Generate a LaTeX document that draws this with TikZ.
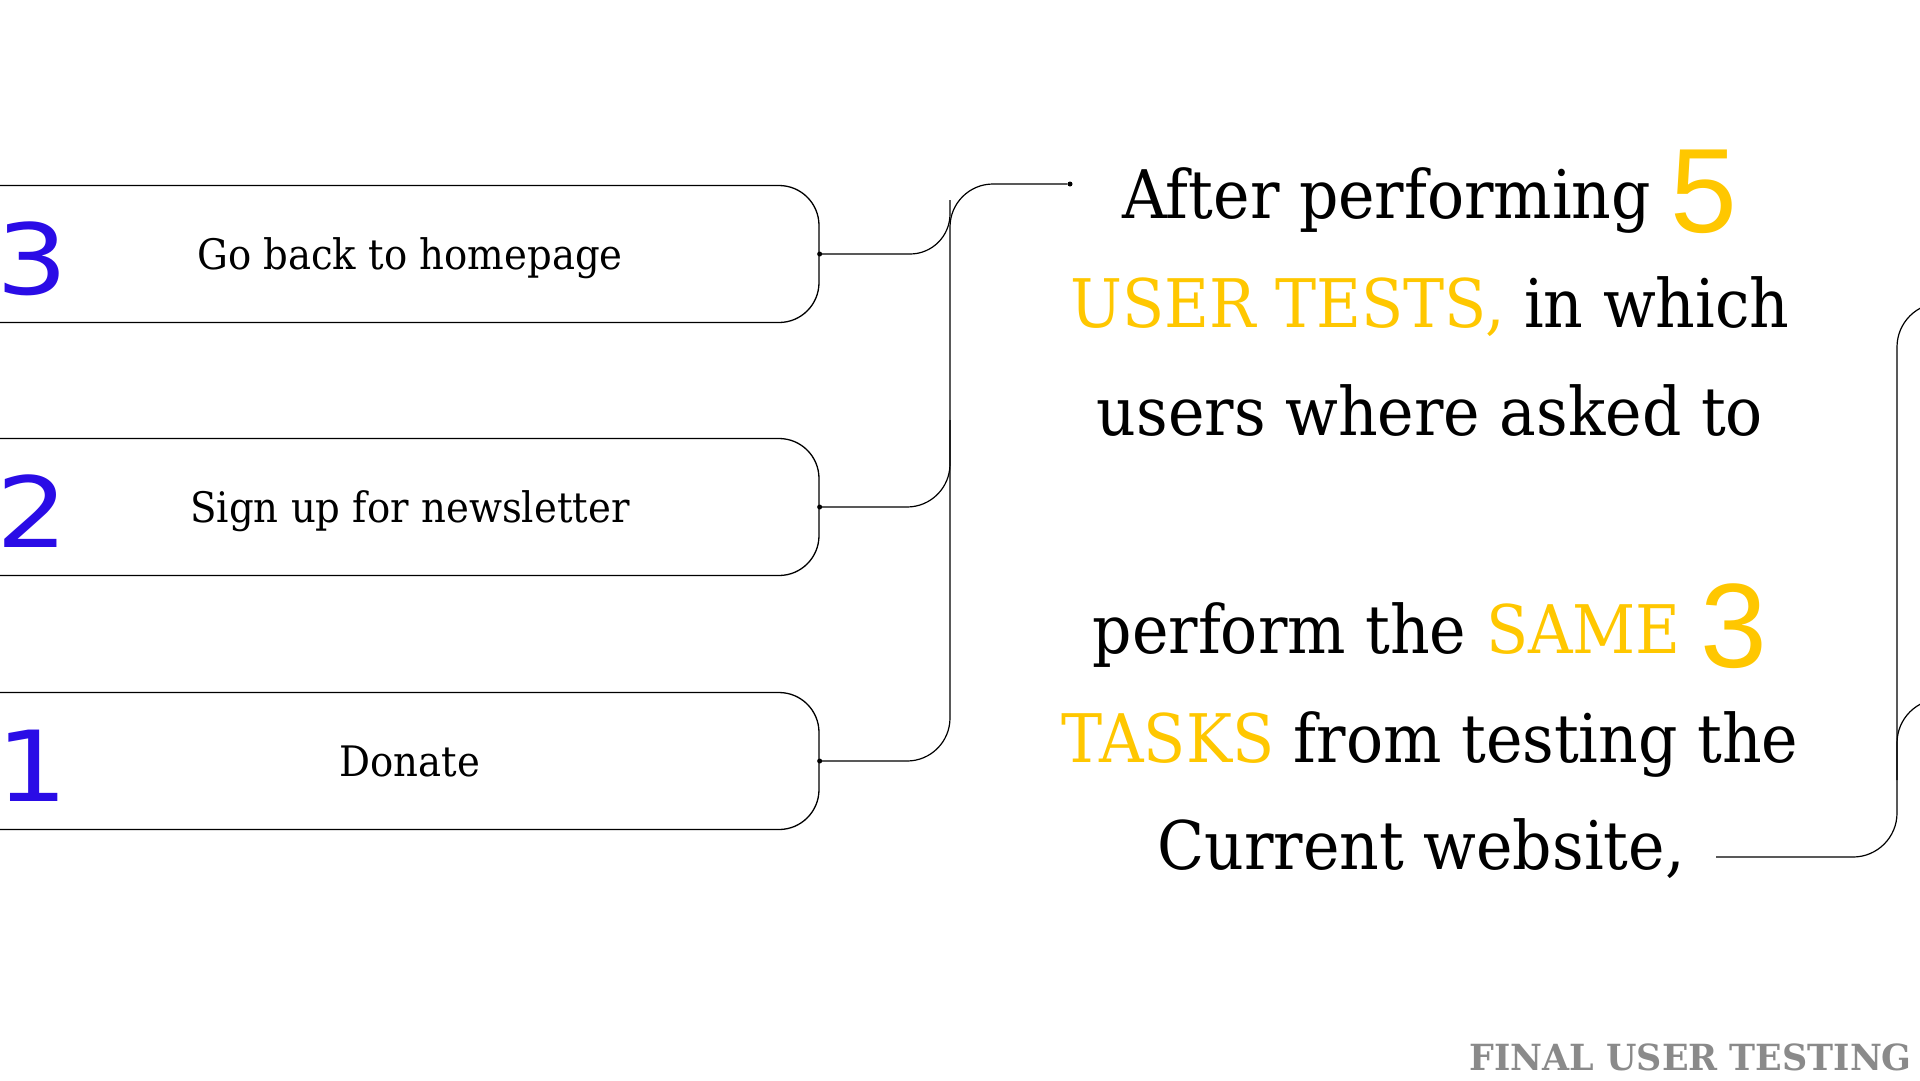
\documentclass[tikz,border=0pt]{standalone}
\usepackage{fontspec}
\setmainfont{DejaVu Serif}
\newfontfamily\slab[FakeStretch=0.92]{DejaVu Serif}
\newfontfamily\tagfont[FakeStretch=0.97]{DejaVu Serif}
\newfontfamily\stepdigits[FakeStretch=1.15]{DejaVu Sans}
\newfontfamily\bigdigits{Liberation Sans}
\usetikzlibrary{calc}

\definecolor{stepblue}{RGB}{42,12,230}
\definecolor{gold}{RGB}{255,199,0}
\definecolor{taggray}{RGB}{138,138,138}

\newcommand{\hi}[1]{\textcolor{gold}{#1}}
\newcommand{\bignum}[1]{\raisebox{-14pt}{\bigdigits\fontsize{120}{120}\selectfont\textcolor{gold}{#1}}}

\begin{document}
\begin{tikzpicture}
      [   x=1pt, y=-1pt,
          taskbox/.style={draw=black,line width=1.3pt,rounded corners=40pt,minimum width=960pt,minimum height=137pt,inner sep=0pt},
          tasktext/.style={font=\slab\fontsize{42}{50}\selectfont,anchor=base},
          tasknum/.style={font=\stepdigits\fontsize{98}{98}\selectfont,text=stepblue,anchor=base west,inner sep=0pt},
          wire/.style={line width=1.2pt,rounded corners=#1},
          dot/.style={circle,fill=black,inner sep=0pt,minimum size=5pt},
          story/.style={font=\slab\fontsize{67}{80}\selectfont,anchor=base},
      ]
          \useasboundingbox (0,0) rectangle (1920,1080);
          \clip (0,0) rectangle (1920,1080);
          % the three tasks
          \foreach \n/\y/\task in {3/254/Go back to homepage,2/507/Sign up for newsletter,1/761/Donate}
          {   \node[taskbox] (box-\n) at (339,\y) {};
              \node[tasktext] (task-\n) at (410,\y+15) {\task};
              \node[tasknum] (num-\n) at (-4,\y+40) {\n};
              \node[dot] (pin-\n) at (box-\n.east) {};
          }
          \node[dot] (lead) at (1070,184) {};
          \draw[wire=40pt] (box-3.east) -| (950,200);
          \draw[wire=43pt] (box-2.east) -| (950,420);
          \draw[wire=43pt] (box-1.east) -| (950,184) -- (lead);
          % summary text
          \node[story] (line-1) at (1430,218) {After performing \bignum{5}};
          \node[story] (line-2) at (1430,327) {\hi{USER TESTS,} in which};
          \node[story] (line-3) at (1430,435) {users where asked to};
          \node[story] (line-4) at (1430,653) {perform the \hi{SAME} \bignum{3}};
          \node[story] (line-5) at (1430,762) {\hi{TASKS} from testing the};
          \node[story] (line-6) at (1421,869) {Current website,};
          % bracket on the right
          \coordinate (tail) at (1716,857);
          \coordinate (ridge) at (1897,303);
          \coordinate (exit-a) at (1980,303);
          \coordinate (exit-b) at (1980,699);
          \draw[wire=44pt] (tail) -| (ridge) -- (exit-a);
          \draw[wire=44pt] (exit-b) -| (1897,780);
          \node[font=\tagfont\bfseries\fontsize{36}{36}\selectfont,text=taggray,anchor=base east,inner sep=0pt,text depth=0pt] (tag) at (1912,1070) {FINAL USER TESTING};
    \end{tikzpicture}
\end{document}
